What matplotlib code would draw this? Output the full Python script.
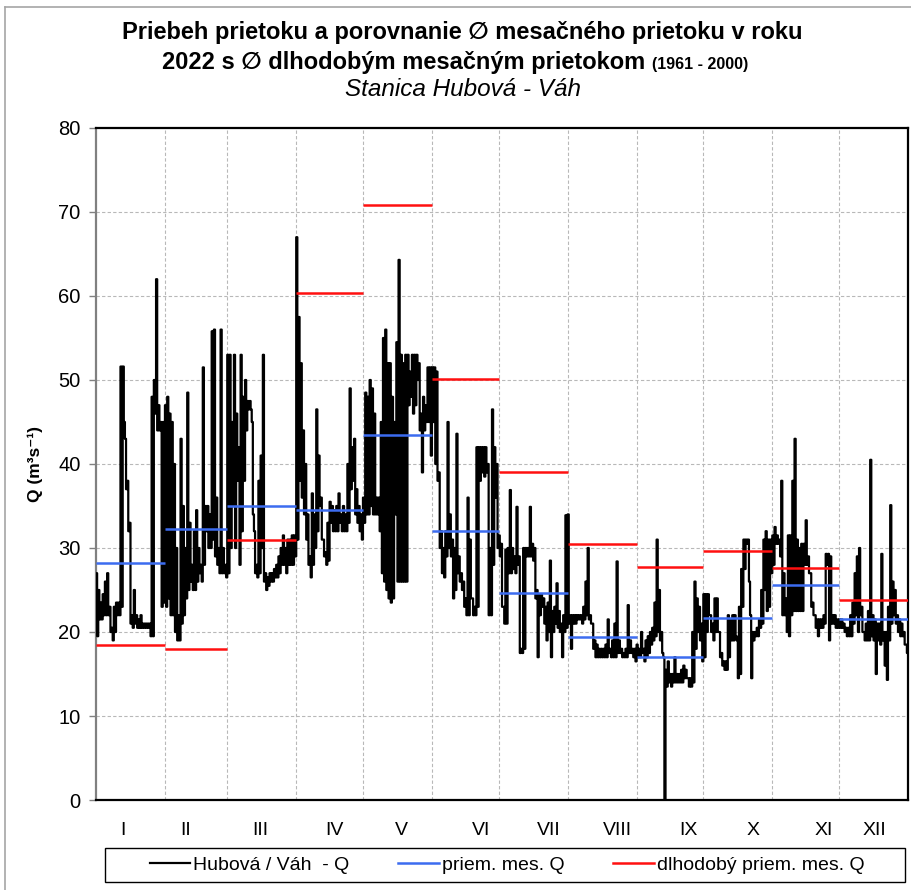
import numpy as np
import matplotlib
matplotlib.use("Agg")
import matplotlib.pyplot as plt
from matplotlib.lines import Line2D
from matplotlib.patches import Rectangle

plt.rcParams['font.family'] = ['Liberation Sans', 'DejaVu Sans']

# ---------------- data ----------------
months = ["I", "II", "III", "IV", "V", "VI", "VII", "VIII", "IX", "X", "XI", "XII"]
days_in_month = [31, 28, 31, 30, 31, 30, 31, 31, 30, 31, 30, 31]
mean_2022 = [28.2, 32.3, 35.0, 34.5, 43.5, 32.0, 24.7, 19.4, 17.0, 21.7, 25.6, 21.5]
mean_longterm = [18.5, 18.0, 31.0, 60.4, 70.8, 50.1, 39.1, 30.5, 27.7, 29.6, 27.6, 23.8]

# daily minimum / maximum discharge
jan_min = [19.5, 21.5, 21.5, 22, 22, 22, 20, 19, 20, 22, 22, 23, 45, 37, 32, 21, 20.5, 21, 20.5, 20.5, 20.5, 20.5, 20.5, 20.5, 19.5, 19.5, 46, 44, 44, 23, 23.5]
jan_max = [27, 25, 23.5, 24.5, 26, 27, 23, 20.5, 23, 23.5, 23.5, 51.6, 51.6, 43, 38, 33, 22, 25, 22, 21.5, 22, 21, 21, 21, 21, 48, 50, 62, 47, 45, 45]
feb_min = [23, 24, 22, 22, 20, 19, 19, 21, 22, 24, 25, 26, 25, 25, 26, 27, 26, 28, 32, 30, 30, 31, 29, 28, 27, 27, 27, 26.5]
feb_max = [47, 48, 46, 45, 40, 30, 22, 43, 35, 30, 48.5, 33, 28, 32, 34.5, 30, 28, 51.5, 35, 35, 34, 55.8, 56, 36, 30, 56, 30, 28]
mar_min = [27, 30, 35, 30, 38, 28, 32, 38, 44, 46.5, 46.5, 34, 27, 26.5, 27, 30, 26, 25, 25.5, 26, 26, 26.5, 26.5, 27, 28, 28, 27, 28, 28, 28, 29]
mar_max = [53, 53, 45, 53, 46, 42, 53, 48, 50, 47.5, 47.5, 45, 32, 28, 38, 41, 53, 27, 26.5, 27, 27, 27.5, 28, 29, 30, 31.5, 30, 31, 31, 31.5, 31.5]
apr_min = [31, 38, 36, 34, 31, 28, 26.5, 28, 30, 32, 35, 31, 29, 28, 28.5, 33, 32, 32, 32, 33, 32, 32, 32, 33, 37, 38, 34, 33, 32, 31]
apr_max = [67, 57.5, 52, 44, 40, 34, 29, 36.5, 34, 46.5, 41, 36, 31, 29.5, 33, 35.5, 35, 34.5, 35, 36.5, 34, 35, 34, 40, 49, 42, 43, 37, 35, 34]
may_min = [33, 34, 34, 35, 34, 34, 34, 32, 27, 26, 25, 24, 23.5, 24, 34, 26, 26, 26, 26, 26, 47, 48, 46, 47, 50, 44, 39, 44, 45, 45, 41]
may_max = [36, 48.5, 48, 50, 49, 46, 36, 36, 45, 55, 56, 52, 52, 48, 45, 54.5, 64.3, 53, 52, 53, 53, 51, 53, 53, 53, 52, 46, 48, 47, 51.5, 51.5]
jun_min = [45, 40, 38, 30, 27, 26.5, 29, 30, 29, 24, 25, 27, 26, 25, 23, 22, 22, 24, 22, 22, 23, 38, 39, 38.5, 39, 22, 22, 28, 36, 30]
jun_max = [51.5, 51.5, 51, 39, 32, 30, 32, 45, 34, 31, 30, 43.6, 29, 27, 26, 24, 36, 31, 24, 23, 42, 42, 42, 42, 42, 40, 30, 46.5, 42, 40]
jul_min = [29, 23, 21, 21, 27, 27, 27.5, 27, 28, 17.5, 17.5, 18, 29, 29, 29, 28.5, 24, 17, 22, 23, 21, 19, 20, 17, 20, 21, 20.5, 20, 17, 20, 20.5]
jul_max = [31.5, 30.5, 23, 29.8, 30, 36.9, 30, 29, 34.9, 29, 18, 30, 30, 30, 34.9, 30.5, 30, 25, 24.5, 24.5, 24, 23, 23.5, 28.5, 22.5, 23, 25.8, 22.5, 21, 22, 33.9]
aug_min = [21, 18, 21, 21, 21.5, 21.5, 21, 21.5, 22, 21.5, 21, 18, 17, 17, 17, 17, 17, 17, 17.5, 17, 17, 17, 17.5, 17.5, 17, 17, 17, 17.5, 17.5, 17, 16.5]
aug_max = [34, 22, 22, 22, 22, 22, 22, 23, 26, 30, 22, 21, 19, 18.5, 18, 18, 18, 18.5, 21.5, 18, 19, 21, 28.4, 19, 18, 17.5, 18, 23.2, 19, 18, 18]
sep_min = [17, 17, 17.5, 16.5, 17, 17.5, 18.5, 19, 19.5, 20, 19, 17.5, 0, 13.5, 14, 13.5, 14, 14, 14, 14, 14, 14.5, 14.5, 13.5, 13.5, 14, 18, 20, 19, 16.5]
sep_max = [18.5, 18, 20, 18, 19, 19.5, 20, 20.5, 23.5, 31, 25, 20, 17, 15.5, 16.5, 15, 15, 17, 15, 15, 15.5, 16, 15.5, 14.5, 14.5, 20, 26, 24, 23, 21]
oct_min = [17, 20, 22, 20, 19, 20, 20, 17, 16, 15.5, 15.5, 17, 19, 19, 19.5, 14.5, 15, 23, 27.5, 30.5, 26, 14.5, 19, 19.5, 19.5, 20.5, 21, 25, 22.5, 23, 27]
oct_max = [24.5, 24.5, 24.5, 22, 21, 24, 24, 20, 17.5, 16.5, 16.5, 22, 21.5, 22, 22, 19, 23, 27.5, 31, 31, 31, 22, 20, 20, 20.5, 21.5, 25, 31, 32, 31, 31]
nov_min = [28, 30.5, 30.5, 29, 22, 22, 20, 19.5, 22, 22.5, 22.5, 22.5, 22.5, 22.5, 28, 28, 27, 23, 22, 20.5, 19.5, 20.5, 20.5, 21, 28, 19, 21, 21, 20.5, 20.5]
nov_max = [31.5, 32.5, 31.5, 31, 38, 27, 24, 31.5, 31.5, 38, 43, 31, 30, 30.5, 30.5, 33.3, 29, 27, 23.5, 22, 21.5, 21.5, 21.5, 22, 29.3, 29.3, 29, 22, 22, 21.5]
dec_min = [20.5, 20.5, 20, 19.5, 19.5, 19.5, 21, 22, 20, 22, 20, 19, 19, 19, 19.5, 19, 15, 19, 18.5, 19, 16, 14.3, 19, 21, 22, 21, 20, 19.5, 19.5, 18.5, 17.5]
dec_max = [21.5, 21.5, 21, 20.5, 20.5, 22, 23.5, 27, 29, 30, 23, 20, 21, 22.5, 40.5, 22, 21.5, 21, 21, 29.3, 20, 20, 23, 35.1, 26, 25, 22, 21.5, 21, 20, 18.5]

# label positions of the month names (in days), as placed in the reference
month_label_pos = [12, 40.3, 73.7, 107.3, 137.5, 172.9, 203.6, 234.2, 266.1, 295.5, 327, 349.9]

# ---------------- assemble ----------------
qmin = np.array(jan_min + feb_min + mar_min + apr_min + may_min + jun_min +
                jul_min + aug_min + sep_min + oct_min + nov_min + dec_min, dtype=float)
qmax = np.array(jan_max + feb_max + mar_max + apr_max + may_max + jun_max +
                jul_max + aug_max + sep_max + oct_max + nov_max + dec_max, dtype=float)
ndays = len(qmin)
day = np.arange(ndays)
x = np.column_stack([day + 0.25, day + 0.75]).ravel()
y = np.column_stack([qmax, qmin]).ravel()

bounds = np.concatenate([[0], np.cumsum(days_in_month)])

# ---------------- figure ----------------
W, H = 911, 890
fig = plt.figure(figsize=(W / 100, H / 100), dpi=100)
ax = fig.add_axes([96 / W, 1 - 800 / H, (908 - 96) / W, (800 - 128) / H])

# grid
for b in bounds[1:-1]:
    ax.axvline(b, color='#b8b8b8', lw=0.8, ls=(0, (3, 2)), zorder=0)
for v in range(10, 80, 10):
    ax.axhline(v, color='#b8b8b8', lw=0.8, ls=(0, (3, 2)), zorder=0)

ax.plot(x, y, color='black', lw=1.6, drawstyle='steps-mid', zorder=3)

ax.hlines(mean_2022, bounds[:-1], bounds[1:], color='#3c6cf0', lw=1.8, zorder=4)
ax.hlines(mean_longterm, bounds[:-1], bounds[1:], color='#ff1010', lw=1.8, zorder=4)

ax.set_xlim(0, bounds[-1])
ax.set_ylim(0, 80)
ax.set_yticks(range(0, 81, 10))
ax.tick_params(axis='y', direction='out', length=5, width=1, color='#808080',
               labelsize=14.5, pad=6)
ax.set_xticks(month_label_pos)
ax.set_xticklabels(months, fontsize=14)
ax.tick_params(axis='x', length=0, pad=16)

for s in ['top', 'right', 'bottom']:
    ax.spines[s].set_color('black')
    ax.spines[s].set_linewidth(1.6)
ax.spines['left'].set_color('#808080')
ax.spines['left'].set_linewidth(1.6)

ax.set_ylabel('Q (m³s⁻¹)', fontsize=12.5, fontweight='bold', labelpad=11)

# titles
fig.text(462 / W, 1 - 33 / H, 'Priebeh prietoku a porovnanie \u2205 mesačného prietoku v roku',
         ha='center', va='center', fontsize=17, fontweight='bold')
fig.text(162 / W, 1 - 62 / H, '2022 s \u2205 dlhodobým mesačným prietokom',
         ha='left', va='center', fontsize=17, fontweight='bold')
fig.text(652 / W, 1 - 64 / H, '(1961 - 2000)', ha='left', va='center',
         fontsize=11.5, fontweight='bold')
fig.text(463 / W, 1 - 89 / H, 'Stanica Hubová - Váh', ha='center', va='center',
         fontsize=17.5, style='italic')

# chart-area border (top and left edges visible)
fig.add_artist(Line2D([5 / W, 5 / W], [0, 1 - 7 / H], color='#a6a6a6', lw=1.2))
fig.add_artist(Line2D([5 / W, 1], [1 - 7 / H, 1 - 7 / H], color='#a6a6a6', lw=1.2))

# legend
handles = [Line2D([], [], color='black', lw=1.6),
           Line2D([], [], color='#3c6cf0', lw=1.8),
           Line2D([], [], color='#ff1010', lw=1.8)]
labels = ['Hubová / Váh  - Q', 'priem. mes. Q', 'dlhodobý priem. mes. Q']
leg = fig.legend(handles, labels, loc='center', bbox_to_anchor=(507 / W, 1 - 865 / H),
                 ncol=3, fontsize=14, frameon=False, handlelength=2.1,
                 handletextpad=0.15, columnspacing=2.5, borderpad=0.3)
fig.add_artist(Rectangle((105 / W, 1 - 882 / H), 800 / W, 34 / H, transform=fig.transFigure,
                         fill=False, edgecolor='black', lw=1.0))

fig.savefig('out.png', dpi=100)
